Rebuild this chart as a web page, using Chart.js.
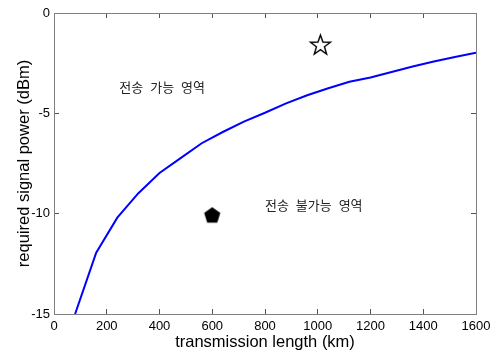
<!DOCTYPE html>
<html>
<head>
<meta charset="utf-8">
<script src="https://cdn.jsdelivr.net/npm/chart.js@4.4.1/dist/chart.umd.min.js"></script>
<style>
  html, body { margin: 0; padding: 0; background: #fff; }
  #wrap { width: 496px; height: 352px; }
</style>
</head>
<body>
<div id="wrap"><canvas id="myChart" width="496" height="352"></canvas></div>
<script>
// curve: required signal power vs. transmission length
const distanceKm = [80, 160, 240, 320, 400, 480, 560, 640, 720, 800, 880, 960, 1040, 1120, 1200, 1280, 1360, 1440, 1520, 1600];
const requiredPower = [-15, -11.95, -10.2, -8.98, -7.97, -7.23, -6.49, -5.93, -5.41, -4.97, -4.5, -4.1, -3.75, -3.43, -3.21, -2.94, -2.67, -2.42, -2.19, -1.98];

// single markers
const starPoint = [1010, -1.62];
const pentagonPoint = [600, -10.1];

// region labels (data coords)
const regionLabels = ['전송 가능 영역', '전송 불가능 영역'];
const regionX = [410, 985];
const regionY = [-3.69, -9.57];

const xTicksMin = 0, xTicksMax = 1600, xStep = 200;
const yTicksMin = -15, yTicksMax = 0, yStep = 5;

const AXIS_FONT = 'Liberation Sans, Arial, Helvetica, sans-serif';

function makeMarker(points, outer, inner, fill, stroke, lw) {
  const size = Math.ceil(outer * 2 + 4);
  const c = document.createElement('canvas');
  c.width = size; c.height = size;
  const g = c.getContext('2d');
  const n = points * (inner ? 2 : 1);
  g.beginPath();
  for (let i = 0; i < n; i++) {
    const r = inner && i % 2 ? inner : outer;
    const a = -Math.PI / 2 + i * 2 * Math.PI / n;
    const px = size / 2 + r * Math.cos(a), py = size / 2 + r * Math.sin(a);
    if (i === 0) g.moveTo(px, py); else g.lineTo(px, py);
  }
  g.closePath();
  g.fillStyle = fill; g.fill();
  if (stroke) { g.lineWidth = lw; g.strokeStyle = stroke; g.lineJoin = 'miter'; g.stroke(); }
  return c;
}

const starImg = makeMarker(5, 10.5, 4.2, '#fff', '#000', 1.4);
const pentImg = makeMarker(5, 8.5, 0, '#000', null, 0);

const regionTextPlugin = {
  id: 'regionText',
  afterDatasetsDraw(chart) {
    const ctx = chart.ctx;
    const xs = chart.scales.x, ys = chart.scales.y;
    ctx.save();
    ctx.font = '13px "Noto Sans CJK KR", sans-serif';
    ctx.fillStyle = '#222';
    ctx.textAlign = 'center';
    ctx.textBaseline = 'middle';
    if ('wordSpacing' in ctx) ctx.wordSpacing = '4px';
    for (let i = 0; i < regionLabels.length; i++) {
      ctx.fillText(regionLabels[i], xs.getPixelForValue(regionX[i]), ys.getPixelForValue(regionY[i]));
    }
    ctx.restore();
  }
};

// no label overflow padding, so the plot box lands where layout.padding says
function noOverflow(scale) {
  scale.paddingLeft = 0; scale.paddingRight = 0;
  scale.paddingTop = 0; scale.paddingBottom = 0;
}

function boxAxis(pos) {
  const isX = pos === 'top';
  return {
    type: 'linear',
    position: pos,
    min: isX ? xTicksMin : yTicksMin,
    max: isX ? xTicksMax : yTicksMax,
    ticks: { display: false, stepSize: isX ? xStep : yStep },
    grid: { drawOnChartArea: false, drawTicks: true, tickLength: -5, color: '#555', lineWidth: 1 },
    border: { display: true, color: '#808080', width: 1 },
    afterFit(scale) { if (isX) scale.height = 0; else scale.width = 0; noOverflow(scale); }
  };
}

var chartContext = document.getElementById('myChart').getContext('2d');
var myChart = new Chart(chartContext, {
  type: 'scatter',
  data: {
    datasets: [{
      data: distanceKm.map((d, i) => ({ x: d, y: requiredPower[i] })),
      showLine: true,
      borderColor: '#0000ff',
      borderWidth: 2,
      pointRadius: 0,
      tension: 0,
      xAxisID: 'x', yAxisID: 'y'
    }, {
      data: [{ x: starPoint[0], y: starPoint[1] }],
      pointStyle: starImg,
      pointRadius: 11,
      xAxisID: 'x', yAxisID: 'y'
    }, {
      data: [{ x: pentagonPoint[0], y: pentagonPoint[1] }],
      pointStyle: pentImg,
      pointRadius: 9,
      xAxisID: 'x', yAxisID: 'y'
    }]
  },
  options: {
    responsive: false,
    animation: false,
    layout: { padding: { top: 13, right: 20, left: 0, bottom: 0 } },
    plugins: { legend: { display: false }, tooltip: { enabled: false } },
    scales: {
      x: {
        type: 'linear',
        position: 'bottom',
        min: xTicksMin, max: xTicksMax,
        ticks: { stepSize: xStep, color: '#000', padding: 10, font: { family: AXIS_FONT, size: 13 }, callback: v => String(v) },
        grid: { drawOnChartArea: false, drawTicks: true, tickLength: -5, color: '#555' },
        border: { display: true, color: '#808080' },
        title: { display: true, text: 'transmission length (km)', color: '#000', padding: { top: 0, bottom: 0 }, font: { family: AXIS_FONT, size: 16.5 } },
        afterFit(scale) { scale.height = 38; noOverflow(scale); }
      },
      y: {
        type: 'linear',
        position: 'left',
        min: yTicksMin, max: yTicksMax,
        ticks: { stepSize: yStep, color: '#000', padding: 9, font: { family: AXIS_FONT, size: 13 }, callback: v => String(v) },
        grid: { drawOnChartArea: false, drawTicks: true, tickLength: -5, color: '#555' },
        border: { display: true, color: '#808080' },
        title: { display: true, text: 'required signal power (dBm)', color: '#000', padding: { top: 15, bottom: 0 }, font: { family: AXIS_FONT, size: 16.5 } },
        afterFit(scale) { scale.width = 54; noOverflow(scale); }
      },
      x2: boxAxis('top'),
      y2: boxAxis('right')
    }
  },
  plugins: [regionTextPlugin]
});
</script>
</body>
</html>
